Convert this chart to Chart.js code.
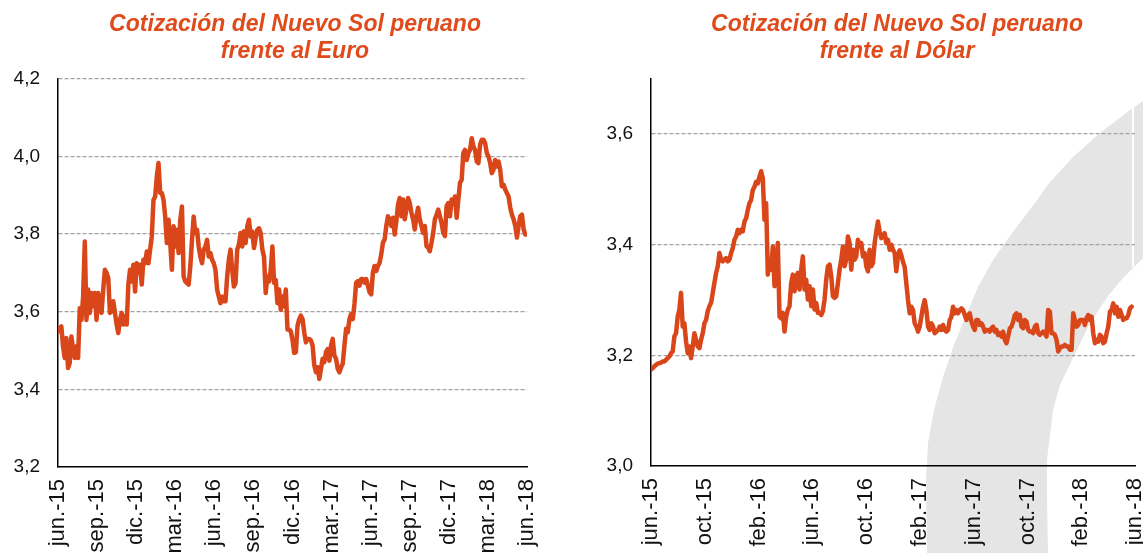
<!DOCTYPE html>
<html><head><meta charset="utf-8">
<script src="https://cdn.jsdelivr.net/npm/chart.js@4.4.0/dist/chart.umd.min.js"></script>
<style>
html,body{margin:0;padding:0;background:#fff;width:1143px;height:553px;overflow:hidden}
body{position:relative}
#band{position:absolute;left:0;top:0}
canvas{position:absolute;top:0}
#c1{left:0}
#c2{left:572px}
</style></head><body>
<svg id="band" width="1143" height="553">
<polygon fill="#e5e5e5" points="1150,96 1130,110 1100,133 1073,157 1050,182 1032,207 1012,233 993,260 978,287 967,313 954,345 943,377 934,410 928,443 926,480 927,553 1048,553 1047,500 1047,460 1053,410 1060,385 1072,360 1090,323 1108,296 1123,278 1135,266 1150,252"/>
<rect x="1132" y="104" width="2" height="163" fill="#fff"/>
</svg>
<canvas id="c1" width="590" height="620"></canvas>
<canvas id="c2" width="650" height="620"></canvas>
<script>
// ---- data ----
const euroTitle = ["Cotización del Nuevo Sol peruano", "frente al Euro"];
const dolarTitle = ["Cotización del Nuevo Sol peruano", "frente al Dólar"];

const euroTickLabels = ["jun.-15","sep.-15","dic.-15","mar.-16","jun.-16","sep.-16","dic.-16","mar.-17","jun.-17","sep.-17","dic.-17","mar.-18","jun.-18"];
const dolarTickLabels = ["jun.-15","oct.-15","feb.-16","jun.-16","oct.-16","feb.-17","jun.-17","oct.-17","feb.-18","jun.-18"];

const euroYTicks = [3.2, 3.4, 3.6, 3.8, 4.0, 4.2];
const euroYMax = 4.2;
const dolarYTicks = [3.0, 3.2, 3.4, 3.6];
const dolarYMax = 3.7;

// PEN per EUR, sampled at regular intervals from jun.-15 to jun.-18
const euroValues = [
3.549,3.558,3.562,3.511,3.481,3.532,3.455,3.468,3.536,3.502,3.481,3.511,3.481,
3.609,3.579,3.639,3.781,3.579,3.657,3.597,3.648,3.614,3.648,3.579,3.648,3.614,3.597,3.657,3.708,3.700,3.687,3.597,3.601,3.627,3.597,3.567,3.545,3.579,3.597,3.567,3.588,3.567,3.670,3.708,3.678,3.721,3.652,3.725,3.700,3.721,3.670,3.734,3.725,3.755,3.725,3.760,3.794,3.888,3.897,3.948,3.983,3.906,3.906,3.888,3.845,3.777,3.837,3.777,3.708,3.820,3.768,3.811,3.751,3.837,3.871,3.691,3.678,3.674,3.670,3.717,3.785,3.845,3.803,3.811,3.768,3.742,3.725,3.760,3.768,3.785,3.742,3.751,3.734,3.725,3.708,3.657,3.639,3.622,3.639,3.627,3.627,3.691,3.734,3.760,3.708,3.665,3.674,3.760,3.773,3.803,3.768,3.807,3.777,3.820,3.837,3.794,3.807,3.764,3.790,3.811,3.815,3.803,3.760,3.742,3.648,3.691,3.678,3.708,3.768,3.674,3.682,3.622,3.657,3.605,3.639,3.614,3.657,3.554,3.554,3.549,3.528,3.494,
3.496,3.564,3.581,3.590,3.581,3.547,3.521,3.530,3.530,3.526,3.513,3.462,3.444,3.457,3.427,3.453,3.479,3.470,3.496,3.504,3.474,3.513,3.530,3.487,3.479,3.453,3.444,3.457,3.466,3.513,3.556,3.547,3.581,3.594,3.581,3.620,3.675,3.679,3.667,3.684,3.684,3.675,3.684,3.667,3.650,3.645,3.701,3.718,3.705,3.718,3.726,3.748,3.778,3.786,3.821,3.846,3.838,3.821,3.842,3.799,3.833,3.876,3.893,3.846,3.889,3.838,3.863,3.893,3.880,3.855,3.838,3.812,3.846,3.868,3.838,3.821,3.803,3.821,3.769,3.765,3.756,3.778,3.803,3.838,3.850,3.863,3.846,3.829,3.803,3.795,3.872,3.880,3.846,3.889,3.880,3.897,3.842,3.889,3.932,3.940,4.009,4.017,3.991,4.009,4.017,4.047,4.026,4.017,3.987,3.983,4.030,4.043,4.043,4.034,4.009,4.000,3.983,3.957,3.966,3.991,3.974,3.987,3.966,3.923,3.927,3.915,3.906,3.897,3.868,3.850,3.838,3.821,3.791,3.821,3.846,3.850,3.812,3.799,3.799
];

// PEN per USD, sampled at regular intervals from jun.-15 to jun.-18
const dolarValues = [
3.174,3.177,3.180,3.183,3.185,3.186,3.187,3.189,3.189,3.192,3.195,3.198,3.204,3.207,3.234,3.240,3.270,3.283,3.313,3.252,3.258,3.225,3.204,3.216,3.195,3.216,3.240,3.228,3.216,3.213,3.228,3.240,3.258,3.264,3.280,3.289,3.295,3.313,3.331,3.349,3.361,3.385,3.373,3.370,3.373,3.376,3.370,3.373,3.385,3.394,3.409,3.415,3.427,3.421,3.427,3.424,3.442,3.448,3.463,3.475,3.481,3.499,3.505,3.514,3.511,3.523,3.533,3.520,3.445,3.475,3.346,3.373,3.355,3.397,3.325,3.355,3.403,3.270,3.267,3.277,3.243,3.270,3.283,3.289,3.331,3.346,3.316,3.343,3.349,3.319,3.355,3.379,3.319,3.337,3.301,3.325,3.289,3.319,3.283,3.295,3.277,3.277,3.273,3.280,3.301,3.337,3.361,3.364,3.343,3.307,3.304,3.307,3.331,3.355,3.373,3.397,3.361,3.373,3.415,3.403,3.355,3.391,3.373,3.379,3.409,3.397,3.403,3.379,3.385,3.361,3.352,3.391,3.361,3.367,3.403,3.424,3.442,3.424,3.412,3.415,3.421,3.403,3.409,3.391,3.400,3.391,3.385,3.352,
3.381,3.390,3.381,3.369,3.360,3.330,3.300,3.276,3.288,3.282,3.258,3.252,3.243,3.252,3.270,3.288,3.300,3.282,3.252,3.246,3.258,3.252,3.240,3.243,3.246,3.252,3.246,3.255,3.246,3.243,3.246,3.264,3.270,3.288,3.276,3.282,3.276,3.282,3.285,3.282,3.273,3.264,3.273,3.276,3.261,3.252,3.246,3.264,3.264,3.255,3.258,3.252,3.243,3.246,3.246,3.243,3.249,3.252,3.243,3.246,3.237,3.240,3.234,3.243,3.228,3.222,3.234,3.249,3.252,3.261,3.273,3.276,3.264,3.273,3.252,3.249,3.264,3.261,3.246,3.243,3.243,3.240,3.252,3.255,3.240,3.237,3.240,3.243,3.240,3.234,3.282,3.279,3.240,3.240,3.237,3.228,3.207,3.213,3.216,3.216,3.219,3.216,3.216,3.210,3.210,3.276,3.264,3.252,3.255,3.264,3.264,3.264,3.255,3.267,3.273,3.264,3.270,3.240,3.222,3.228,3.225,3.237,3.234,3.222,3.225,3.240,3.252,3.279,3.282,3.294,3.276,3.288,3.270,3.282,3.273,3.264,3.267,3.267,3.273,3.285,3.288
];

// ---- styling ----
const FONT = "'Liberation Sans', Arial, Helvetica, sans-serif";
const TITLE_COLOR = '#DF4B1B';
const LINE_COLOR = '#D9461A';
Chart.defaults.font.family = FONT;
Chart.defaults.color = '#111';

function makeChart(id, title, values, spanMonths, tickLabels, tickStep, yTicks, yMax, yAxisWidth, rightGap, xAxisHeight) {
  const n = values.length;
  const pts = values.map((v, i) => ({ x: i * spanMonths / (n - 1), y: v }));
  const yMin = yTicks[0];
  return new Chart(document.getElementById(id), {
    type: 'line',
    data: { datasets: [{ data: pts, borderColor: LINE_COLOR, borderWidth: 4.5, pointRadius: 0, tension: 0, fill: false, borderJoinStyle: 'round', borderCapStyle: 'round' }] },
    options: {
      responsive: false, animation: false, devicePixelRatio: 1,
      layout: { padding: 0 },
      plugins: {
        legend: { display: false }, tooltip: { enabled: false },
        title: { display: true, text: title, color: TITLE_COLOR,
          font: { family: FONT, size: 23, weight: 'bold', style: 'italic', lineHeight: 1.17 },
          padding: { top: 11.5, bottom: 13.5 } }
      },
      scales: {
        x: {
          type: 'linear', min: 0, max: (tickLabels.length - 1) * tickStep,
          afterBuildTicks: s => { s.ticks = tickLabels.map((l, i) => ({ value: i * tickStep })); },
          afterFit: s => { s.height = xAxisHeight; },
          grid: { display: false, drawTicks: false },
          border: { display: true, color: '#000', width: 1.5 },
          ticks: { autoSkip: false, minRotation: 90, maxRotation: 90, padding: 12, color: '#111',
            font: { size: 22 },
            callback: (v) => tickLabels[Math.round(v / tickStep)] }
        },
        y: {
          min: yMin, max: yMax,
          afterBuildTicks: s => { s.ticks = yTicks.map(v => ({ value: v })); },
          afterFit: s => { s.width = yAxisWidth; },
          grid: { drawTicks: false, lineWidth: 1.3,
            color: ctx => (ctx.tick && Math.abs(ctx.tick.value - yMin) < 1e-9) ? 'rgba(0,0,0,0)' : '#a3a3a3' },
          border: { display: true, color: '#000', width: 1.5, dash: [4, 2] },
          ticks: { padding: 18, color: '#111', font: { size: 19 },
            callback: v => Number(v).toFixed(1).replace('.', ',') }
        },
        gap: {
          position: 'right', min: 0, max: 1,
          afterBuildTicks: s => { s.ticks = []; },
          afterFit: s => { s.width = rightGap; },
          grid: { display: false, drawTicks: false },
          border: { display: false },
          ticks: { display: false }
        }
      }
    }
  });
}

makeChart('c1', euroTitle, euroValues, 36, euroTickLabels, 3, euroYTicks, euroYMax, 58, 63, 620 - 467);
makeChart('c2', dolarTitle, dolarValues, 35.75, dolarTickLabels, 4, dolarYTicks, dolarYMax, 79, 87, 620 - 466);
</script>
</body></html>
